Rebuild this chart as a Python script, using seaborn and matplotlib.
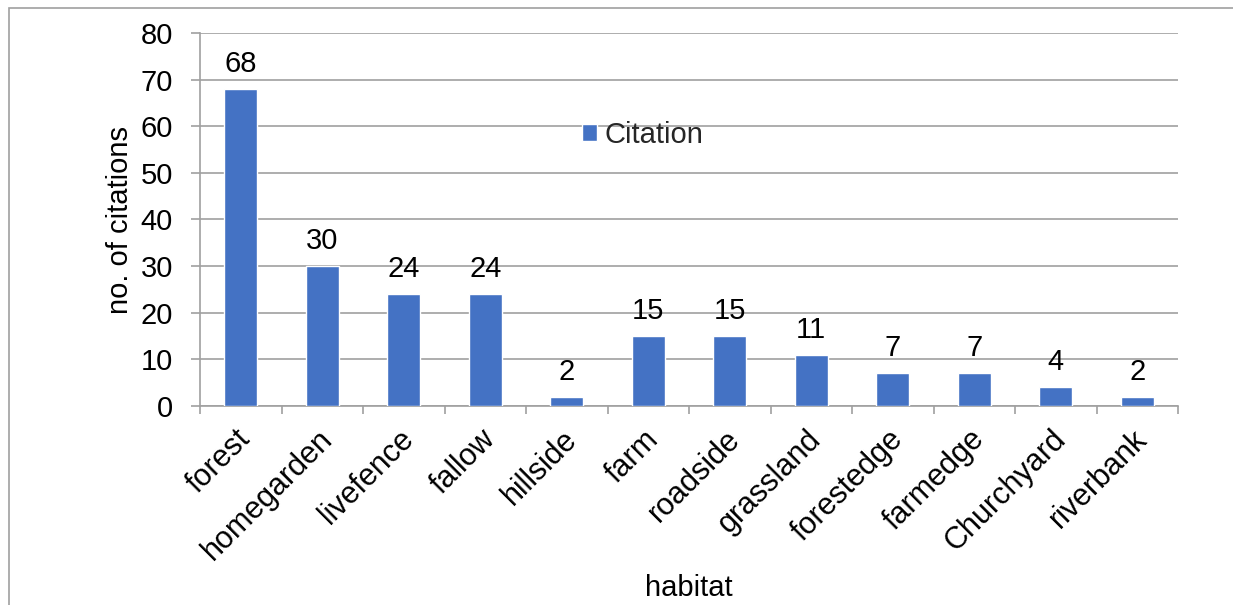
import matplotlib
matplotlib.use("Agg")
import matplotlib.pyplot as plt
import matplotlib.transforms as mtransforms
import seaborn as sns
import pandas as pd
from matplotlib.patches import Rectangle

habitats = ["forest", "homegarden", "livefence", "fallow", "hillside", "farm",
            "roadside", "grassland", "forestedge", "farmedge", "Churchyard", "riverbank"]
citations = [68, 30, 24, 24, 2, 15, 15, 11, 7, 7, 4, 2]
y_ticks = [0, 10, 20, 30, 40, 50, 60, 70, 80]

df = pd.DataFrame({"habitat": habitats, "Citation": citations})

sns.set_theme(style="white")
plt.rcParams["font.family"] = ["Liberation Sans", "DejaVu Sans"]

bar_color = "#4472C4"
grid_color = "#a0a0a0"
fs = 21

fig = plt.figure(figsize=(12.33, 6.05), dpi=100)
ax = fig.add_axes([200 / 1233, 1 - 406 / 605, 978 / 1233, 373 / 605])

sns.barplot(data=df, x="habitat", y="Citation", color=bar_color, width=0.4,
            saturation=1, ax=ax, label="Citation", zorder=3)

ax.set_xlim(-0.5, len(habitats) - 0.5)
ax.set_ylim(0, 80)
ax.set_yticks(y_ticks)
ax.set_yticklabels([str(t) for t in y_ticks], fontsize=fs, color="black")
ax.yaxis.grid(True, color=grid_color, linewidth=1.2, zorder=0)
ax.set_axisbelow(True)

# gridline stubs left of the axis
ax.tick_params(axis="y", length=6.5, width=1.2, color=grid_color, pad=13, left=True)
ax.tick_params(axis="x", which="major", length=0, pad=13)
ax.set_xticks(range(len(habitats)))
ax.set_xticklabels(habitats, rotation=45, ha="right", va="top",
                   rotation_mode="anchor", fontsize=fs + 1, color="black")
shift = mtransforms.ScaledTranslation(-5 / 100, 0, fig.dpi_scale_trans)
for lbl in ax.get_xticklabels():
    lbl.set_transform(lbl.get_transform() + shift)
ax.set_xticks([i - 0.5 for i in range(len(habitats) + 1)], minor=True)
ax.tick_params(axis="x", which="minor", length=6, width=1.2, color=grid_color,
               bottom=True)

for side in ["top", "right"]:
    ax.spines[side].set_visible(False)
for side in ["left", "bottom"]:
    ax.spines[side].set_color(grid_color)
    ax.spines[side].set_linewidth(1.2)

for i, v in enumerate(citations):
    ax.annotate(str(v), (i, v), xytext=(0, 8), textcoords="offset points",
                ha="center", va="bottom", fontsize=fs, color="black")

ax.set_ylabel("no. of citations", fontsize=fs, color="black", va="center")
ax.yaxis.set_label_coords(-80 / 978, 0.5)
ax.set_xlabel("habitat", fontsize=fs, color="black", va="center")
ax.xaxis.set_label_coords(0.5, -182 / 373)

ax.legend(loc="center left", bbox_to_anchor=(382 / 978, 271 / 373), frameon=False,
          fontsize=fs, handlelength=0.52, handleheight=0.52, handletextpad=0.24,
          borderaxespad=0, borderpad=0)

fig.patches.append(Rectangle((9 / 1233, -0.05), 1.2, 1 - 8 / 605 + 0.05,
                             transform=fig.transFigure, fill=False,
                             edgecolor="#a0a0a0", linewidth=1.2))

fig.savefig("out.png", dpi=100, facecolor="white")
